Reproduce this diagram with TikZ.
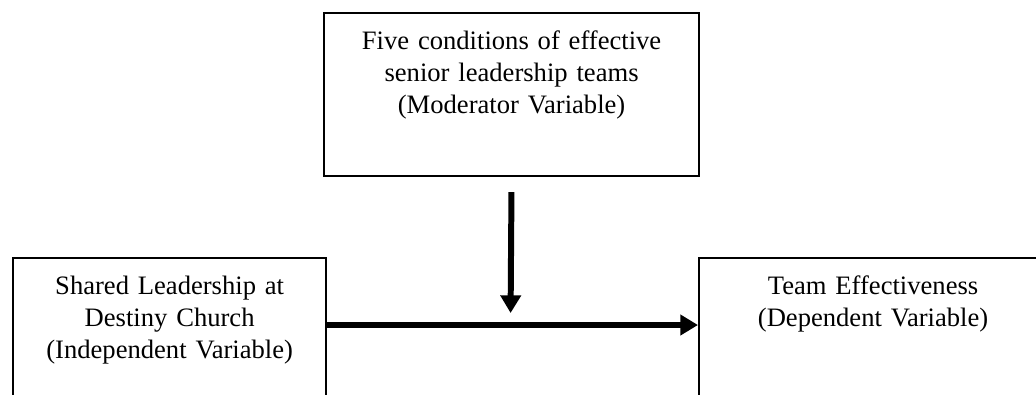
\documentclass[tikz,border=0pt]{standalone}
\usepackage{fontspec}
\setmainfont{Liberation Serif}
\usetikzlibrary{arrows.meta}

\begin{document}
\begin{tikzpicture}[x=0.4513pt, y=-0.4513pt,
    varbox/.style={draw, line width=1pt, anchor=north west, inner sep=0pt, align=center,
        font=\fontsize{12}{14.4}\selectfont, text height=16.5pt, text depth=57pt},
    flow/.style={line width=2.7pt, -{Triangle[length=8pt,width=9pt]}}]
\useasboundingbox (0,0) rectangle (1036,394);
\clip (0,0) rectangle (1036,394);
\node[varbox, text width=169.2pt] (moderator) at (323,12) {Five conditions of effective\\ senior leadership teams\\ (Moderator Variable)};
\node[varbox, text width=141.3pt] (leadership) at (12,257) {Shared Leadership at\\ Destiny Church\\ (Independent Variable)};
\node[varbox, text width=157pt] (effectiveness) at (698,257) {Team Effectiveness\\ (Dependent Variable)};
\coordinate (junction) at (510.5,325);
\draw[flow] (leadership.east |- junction) -- (effectiveness.west |- junction);
\draw[flow, shorten <=6.8pt, shorten >=5.4pt] (moderator.south) -- (junction);
\end{tikzpicture}
\end{document}
